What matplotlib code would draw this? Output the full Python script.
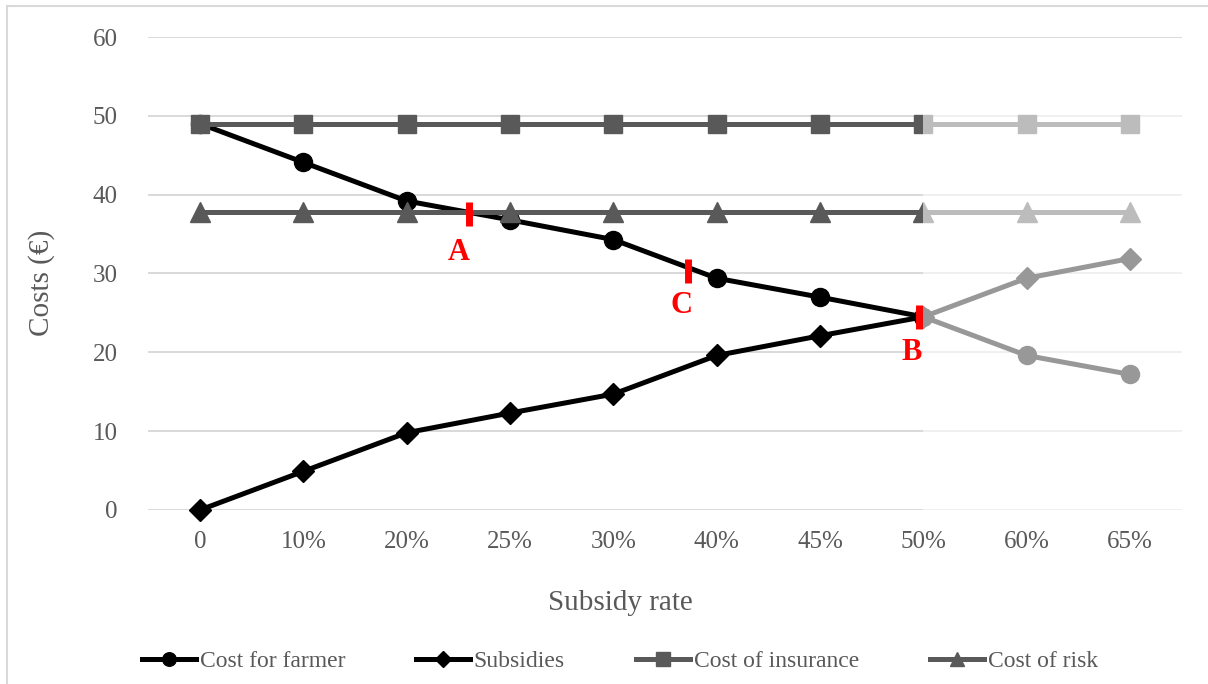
#!/usr/bin/env python3

import numpy as np
import matplotlib
matplotlib.use('Agg')
import matplotlib.pyplot as plt
from matplotlib.patches import Rectangle
from matplotlib.lines import Line2D

plt.rcParams['font.family'] = ['Liberation Serif', 'DejaVu Serif']

# subsidy rates on the x axis (categorical)
rates = ['0', '10%', '20%', '25%', '30%', '40%', '45%', '50%', '60%', '65%']

cost_farmer = [49.0, 44.1, 39.2, 36.8, 34.3, 29.4, 27.0, 24.5, 19.6, 17.2]
subsidies = [0.0, 4.9, 9.8, 12.3, 14.7, 19.6, 22.1, 24.5, 29.4, 31.9]
cost_insurance = [49.0] * 10
cost_risk = [37.8] * 10

# points A, C, B on the farmer curve (position in category units, value)
mark_names = ['A', 'C', 'B']
mark_x = [2.6, 4.72, 6.96]
mark_y = [37.5, 30.3, 24.5]

txt = '#595959'
grid_c = '#d9d9d9'
dark = '#595959'

fig = plt.figure(figsize=(12.08, 6.84), dpi=100)
ax = fig.add_axes([0.1228, 0.2544, 0.8554, 0.6915])

x = np.arange(len(rates))

ax.plot(x, cost_farmer, color='black', lw=3.6, marker='o', ms=13,
        label='Cost for farmer', zorder=3, clip_on=False)
ax.plot(x, subsidies, color='black', lw=3.6, marker='D', ms=11,
        label='Subsidies', zorder=3, clip_on=False)
ax.plot(x, cost_insurance, color=dark, lw=3.6, marker='s', ms=13,
        label='Cost of insurance', zorder=4, clip_on=False)
ax.plot(x, cost_risk, color=dark, lw=3.6, marker='^', ms=14,
        label='Cost of risk', zorder=4, clip_on=False)

# faded part of the chart, from 50% on
ax.add_patch(Rectangle((7, -1), 2.5, 52, facecolor='white', alpha=0.6,
                       edgecolor='none', zorder=5, clip_on=False))

ax.plot(mark_x, mark_y, ls='none', marker='|', ms=17, mew=5,
        color='#ff0000', zorder=6)
lab_dx = [-0.1, -0.06, -0.07]
lab_y = [32.7, 26.0, 20.0]
for n, mx, dx, ly in zip(mark_names, mark_x, lab_dx, lab_y):
    ax.text(mx + dx, ly, n, color='#ff0000', fontsize=22,
            fontweight='bold', ha='center', va='center', zorder=6)

ax.set_xlim(-0.5, 9.5)
ax.set_ylim(0, 60)
ax.set_yticks(np.arange(0, 61, 10))
ax.set_xticks(x)
ax.set_xticklabels(rates)
ax.yaxis.grid(True, color=grid_c, lw=1.4, zorder=0)
ax.set_axisbelow(True)
for s in ax.spines.values():
    s.set_visible(False)
ax.tick_params(length=0, labelsize=18, labelcolor=txt)
ax.tick_params(axis='y', pad=22)
ax.tick_params(axis='x', pad=15)

ax.set_xlabel('Subsidy rate', fontsize=21, color=txt, labelpad=27, x=0.457)
ax.set_ylabel('Costs (€)', fontsize=21, color=txt, labelpad=27, y=0.48)

fig.legend(loc='center', bbox_to_anchor=(0.513, 0.033), ncol=4,
           frameon=False, fontsize=17, labelcolor=txt, markerscale=0.75,
           handlelength=2.3, handletextpad=0.15, columnspacing=3.0)

# outer chart border
fig.add_artist(Line2D([0.0058, 0.0058], [0, 0.9912], color=grid_c, lw=1.5,
                      transform=fig.transFigure))
fig.add_artist(Line2D([0.0058, 1], [0.9912, 0.9912], color=grid_c, lw=1.5,
                      transform=fig.transFigure))

plt.savefig('out.png', dpi=100)
plt.close()
